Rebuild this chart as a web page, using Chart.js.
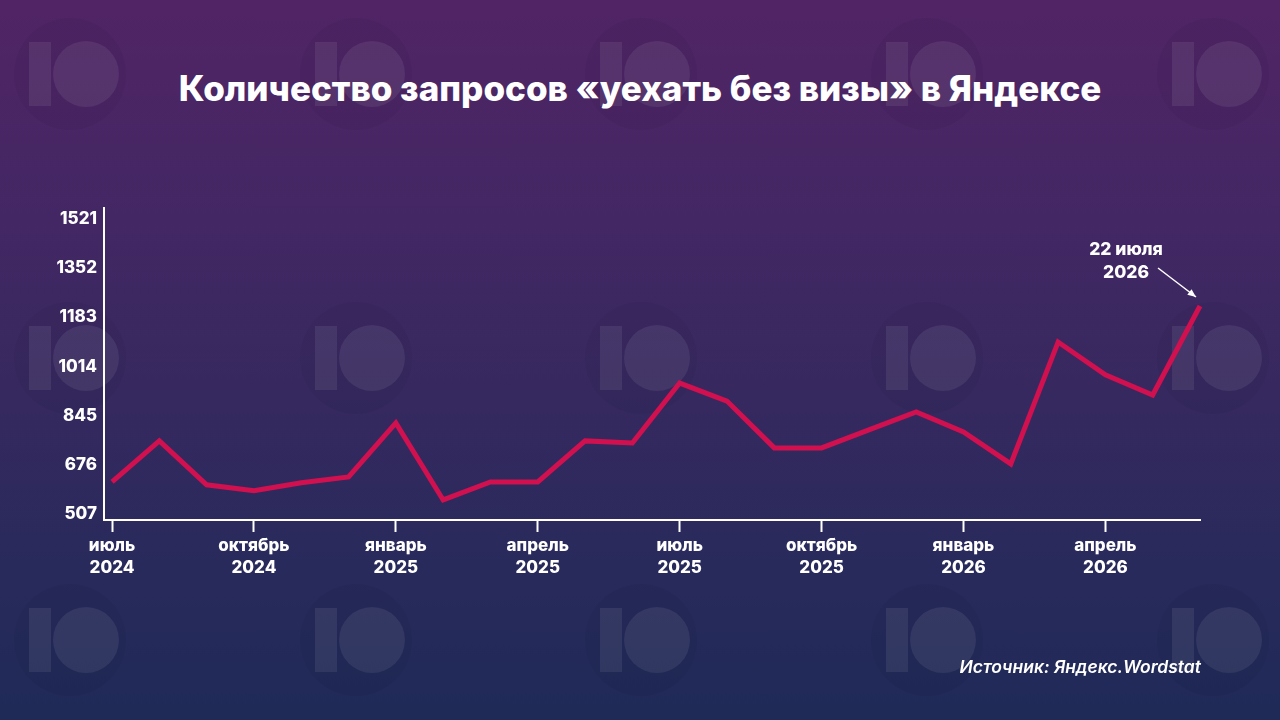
<!DOCTYPE html>
<html lang="ru">
<head>
<meta charset="utf-8">
<title>Запросы «уехать без визы»</title>
<script src="https://cdn.jsdelivr.net/npm/chart.js@4.4.1/dist/chart.umd.min.js"></script>
<style>
    html, body { margin: 0; padding: 0; width: 1280px; height: 720px; overflow: hidden; }
    body {
        position: relative;
        background: linear-gradient(180deg, #512465 0%, #432764 30%, #36295f 55%, #292a5c 78%, #1f2a57 100%);
        font-family: Inter, "Open Sans", sans-serif;
    }
    .wm { position: absolute; pointer-events: none; }
    .wm .halo { position: absolute; width: 112px; height: 112px; border-radius: 50%; background: rgba(0,0,0,0.04); left: -72px; top: -56px; }
    .wm .bar { position: absolute; width: 22px; height: 64px; left: -57px; top: -32px; background: rgba(255,255,255,0.075); }
    .wm .dot { position: absolute; width: 66px; height: 66px; border-radius: 50%; left: -33px; top: -33px; background: rgba(255,255,255,0.075); }
    #title {
        position: absolute; left: 0; top: 67px; width: 1280px; text-align: center;
        color: #fff; font-weight: 800; font-size: 35px; letter-spacing: 0;
    }
    #source {
        position: absolute; right: 79px; top: 656px;
        color: #fff; font-style: italic; font-weight: 600; font-size: 17.5px;
    }
    #chart { position: absolute; left: 0; top: 0; }
</style>
</head>
<body>
<div id="marks"></div>
<div id="title">Количество запросов «уехать без визы» в Яндексе</div>
<canvas id="chart" width="1280" height="720"></canvas>
<div id="source">Источник: Яндекс.Wordstat</div>
<script>
// месяцы: июль 2024 ... июнь 2026
const months = ['2024-07','2024-08','2024-09','2024-10','2024-11','2024-12',
                '2025-01','2025-02','2025-03','2025-04','2025-05','2025-06',
                '2025-07','2025-08','2025-09','2025-10','2025-11','2025-12',
                '2026-01','2026-02','2026-03','2026-04','2026-05','2026-06'];
const requests = [617, 758, 607, 587, 614, 634,
                  820, 555, 617, 617, 758, 751,
                  957, 895, 734, 734, 796, 858,
                  789, 679, 1098, 985, 916, 1222];

const xTickIndex = [0, 3, 6, 9, 12, 15, 18, 21];
const xTickLabels = [['июль','2024'], ['октябрь','2024'], ['январь','2025'], ['апрель','2025'],
                     ['июль','2025'], ['октябрь','2025'], ['январь','2026'], ['апрель','2026']];
const yTicks = [507, 676, 845, 1014, 1183, 1352, 1521];
const noteLines = ['22 июля', '2026'];

// водяные знаки
const marks = document.getElementById('marks');
[86, 372, 657, 943, 1229].forEach(x => {
    [74, 358, 640].forEach(y => {
        const el = document.createElement('div');
        el.className = 'wm';
        el.style.left = x + 'px';
        el.style.top = y + 'px';
        el.innerHTML = '<div class="halo"></div><div class="bar"></div><div class="dot"></div>';
        marks.appendChild(el);
    });
});

const fontFamily = 'Inter, "Open Sans", sans-serif';

// стрелка с подписью к последней точке
const notePlugin = {
    id: 'note',
    afterDatasetsDraw(chart) {
        const pts = chart.getDatasetMeta(0).data;
        const last = pts[pts.length - 1];
        const ctx = chart.ctx;
        const x0 = last.x - 42, y0 = last.y - 38;
        const x1 = last.x - 4, y1 = last.y - 9;
        ctx.save();
        ctx.strokeStyle = '#fff';
        ctx.fillStyle = '#fff';
        ctx.lineWidth = 1.5;
        ctx.beginPath();
        ctx.moveTo(x0, y0);
        ctx.lineTo(x1, y1);
        ctx.stroke();
        const a = Math.atan2(y1 - y0, x1 - x0);
        ctx.beginPath();
        ctx.moveTo(x1, y1);
        ctx.lineTo(x1 - 9 * Math.cos(a - 0.4), y1 - 9 * Math.sin(a - 0.4));
        ctx.lineTo(x1 - 9 * Math.cos(a + 0.4), y1 - 9 * Math.sin(a + 0.4));
        ctx.closePath();
        ctx.fill();
        ctx.font = '800 17.5px ' + fontFamily;
        ctx.textAlign = 'center';
        ctx.textBaseline = 'middle';
        ctx.fillText(noteLines[0], last.x - 74, last.y - 56);
        ctx.fillText(noteLines[1], last.x - 74, last.y - 33);
        ctx.restore();
    }
};

new Chart(document.getElementById('chart'), {
    type: 'line',
    data: {
        datasets: [{
            data: requests.map((v, i) => ({ x: i, y: v })),
            borderColor: '#d1104f',
            borderWidth: 5,
            borderJoinStyle: 'miter',
            pointRadius: 0,
            tension: 0,
            clip: false
        }]
    },
    options: {
        responsive: false,
        animation: false,
        layout: { padding: { left: 0, right: 80, top: 208, bottom: 0 } },
        plugins: { legend: { display: false }, tooltip: { enabled: false } },
        scales: {
            x: {
                type: 'linear',
                min: -0.17,
                max: 23,
                afterFit: s => { s.height = 200; },
                afterBuildTicks: s => { s.ticks = xTickIndex.map(v => ({ value: v })); },
                grid: { drawOnChartArea: false, color: '#fff', tickLength: 12, tickWidth: 2 },
                border: { display: true, color: '#fff', width: 2 },
                ticks: {
                    color: '#fff',
                    padding: 3,
                    maxRotation: 0,
                    font: { family: fontFamily, size: 17, weight: '800', lineHeight: 1.3 },
                    callback: v => xTickLabels[xTickIndex.indexOf(v)]
                }
            },
            y: {
                min: 486,
                max: 1559,
                afterFit: s => { s.width = 104; },
                afterBuildTicks: s => { s.ticks = yTicks.map(v => ({ value: v })); },
                grid: { drawOnChartArea: false, drawTicks: false },
                border: { display: true, color: '#fff', width: 2 },
                ticks: {
                    color: '#fff',
                    padding: 7,
                    font: { family: fontFamily, size: 17, weight: '800' },
                    callback: v => String(v)
                }
            }
        }
    },
    plugins: [notePlugin]
});
</script>
</body>
</html>
